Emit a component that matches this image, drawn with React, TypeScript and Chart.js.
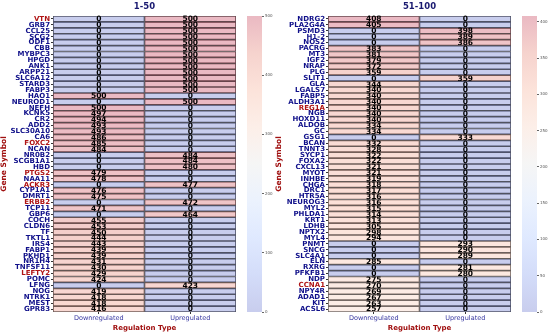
import React, { useEffect, useRef } from 'react';
import { Chart, registerables } from 'chart.js';
Chart.register(...registerables);
Chart.defaults.font.family = '"DejaVu Sans", sans-serif';

const genes1 = ['VTN','GRB7','CCL25','SCG2','ODF1','CBB','MYBPC3','HPGD','ANK1','ARPP21','SLC6A12','STARD3','FABP3','HAO1','NEUROD1','NEFH','KCNK5','CR2','ADD2','SLC30A10','CA6','FOXC2','NCAN','NR0B2','SCGB1A1','HBD','PTGS2','NAA11','ACKR3','CYP1A1','DMRT1','ERBB2','TCP11','GBP6','COCH','CLDN6','TF','TKTL1','IRS4','FABP1','PKHD1','NR1H4','TNFSF11','LEFTY2','POMC','LFNG','NOG','NTRK1','MEST','GPR83'];
const down1 = [0,0,0,0,0,0,0,0,0,0,0,0,0,500,0,500,497,494,493,493,486,485,484,0,0,0,479,478,0,476,475,0,471,0,455,453,450,444,443,439,439,431,430,429,424,0,419,418,418,416];
const up1 = [500,500,500,500,500,500,500,500,500,500,500,500,500,0,500,0,0,0,0,0,0,0,0,484,484,480,0,0,477,0,0,472,0,464,0,0,0,0,0,0,0,0,0,0,0,423,0,0,0,0];
const red1 = ['VTN','FOXC2','PTGS2','ACKR3','ERBB2','LEFTY2'];

const genes2 = ['NDRG2','PLA2G4A','PSMD3','H1-2','NOS2','PACRG','MT3','IGF2','NRAP','PLG','SLIT1','GLA','LGALS7','FABP5','ALDH3A1','REG1A','NGB','HOXD11','ALDOB','GC','GSG1','BCAN','TNNT3','SYCP1','FOXA2','CXCL13','MYOT','INHBE','CHGA','DRC1','HTR5A','NEUROG3','MYL2','PHLDA1','KRT1','LDHB','NPTX2','MYL4','PNMT','SNCG','SLC4A1','ELN','RXRG','PFKFB1','NDP','CCNA1','NPY4R','ADAD1','KIT','ACSL6'];
const down2 = [408,405,0,0,0,383,381,379,372,359,0,344,340,340,340,340,340,340,334,334,0,332,328,322,322,321,321,319,318,317,316,316,315,314,313,305,298,294,0,0,0,285,0,0,275,270,269,267,263,257];
const up2 = [0,0,398,389,386,0,0,0,0,0,359,0,0,0,0,0,0,0,0,0,333,0,0,0,0,0,0,0,0,0,0,0,0,0,0,0,0,0,293,290,289,0,281,280,0,0,0,0,0,0];
const red2 = ['REG1A','CCNA1'];

const regulationLabels = ['Downregulated', 'Upregulated'];
const cbTicks1 = [0, 100, 200, 300, 400, 500];
const cbTicks2 = [0, 50, 100, 150, 200, 250, 300, 350, 400];

const coolwarmStops: number[][] = [
  [59, 76, 192], [98, 130, 234], [141, 176, 254], [184, 208, 249], [221, 221, 221],
  [245, 196, 173], [244, 154, 123], [222, 96, 77], [180, 4, 38],
];
const ALPHA = 0.28;
function coolwarm(t: number): string {
  const tt = Math.max(0, Math.min(1, t)) * (coolwarmStops.length - 1);
  const i = Math.min(Math.floor(tt), coolwarmStops.length - 2);
  const f = tt - i;
  const a = coolwarmStops[i], b = coolwarmStops[i + 1];
  const c = a.map((v, k) => Math.round(v + (b[k] - v) * f));
  return `rgba(${c[0]},${c[1]},${c[2]},${ALPHA})`;
}

type PanelProps = {
  title: string; genes: string[]; down: number[]; up: number[]; red: string[];
  cbTicks: number[]; offset: number;
};

function Panel({ title, genes, down, up, red, cbTicks, offset }: PanelProps) {
  const ref = useRef<HTMLCanvasElement>(null);
  const cbRef = useRef<HTMLCanvasElement>(null);
  useEffect(() => {
    const vmax = Math.max(...down, ...up);
    const colorFor = (v: number) => coolwarm(v / vmax);
    const valuePlugin = {
      id: 'cellValues',
      afterDatasetsDraw(chart: any) {
        const { ctx, scales: { x, y }, chartArea } = chart;
        ctx.save();
        ctx.font = 'bold 7.5px "DejaVu Sans"';
        ctx.fillStyle = '#000';
        ctx.textAlign = 'center';
        ctx.textBaseline = 'middle';
        genes.forEach((g, i) => {
          const yp = y.getPixelForValue(i);
          ctx.fillText(String(down[i]), x.getPixelForValue(0.5), yp + 0.5);
          ctx.fillText(String(up[i]), x.getPixelForValue(1.5), yp + 0.5);
        });
        ctx.font = 'bold 8.5px "DejaVu Sans"';
        ctx.fillStyle = '#191970';
        ctx.fillText(title, (chartArea.left + chartArea.right) / 2, 6.5);
        ctx.restore();
      },
    };
    const barCommon = {
      borderColor: '#555',
      borderWidth: 0.5,
      borderSkipped: false,
      grouped: false,
      barPercentage: 1,
      categoryPercentage: 1,
    };
    const chart = new Chart(ref.current!, {
      type: 'bar',
      data: {
        labels: genes,
        datasets: [
          { ...barCommon, data: genes.map(() => [0, 1]) as any, backgroundColor: down.map(colorFor) },
          { ...barCommon, data: genes.map(() => [1, 2]) as any, backgroundColor: up.map(colorFor) },
        ],
      },
      options: {
        indexAxis: 'y',
        animation: false,
        responsive: false,
        events: [],
        layout: { padding: { top: 16, bottom: 4, right: 39, left: 0 } },
        plugins: { legend: { display: false }, tooltip: { enabled: false }, title: { display: false } },
        scales: {
          x: {
            type: 'linear', min: 0, max: 2,
            afterBuildTicks: (s: any) => { s.ticks = [{ value: 0.5 }, { value: 1.5 }]; },
            afterFit: (s: any) => { s.height = 20; },
            ticks: {
              callback: (v: any) => (Number(v) < 1 ? regulationLabels[0] : regulationLabels[1]),
              font: { size: 6.5 }, color: '#3535a0', padding: 0, maxRotation: 0, autoSkip: false,
            },
            grid: { drawOnChartArea: false, drawTicks: true, tickLength: 2, color: '#333' },
            border: { display: false },
            title: { display: true, text: 'Regulation Type', font: { size: 7, weight: 'bold' }, color: '#a01010', padding: 0 },
          },
          y: {
            type: 'category',
            afterFit: (s: any) => { s.width = 53; },
            ticks: {
              autoSkip: false, font: { size: 7, weight: 'bold' }, padding: 1,
              color: (ctx: any) => (red.includes(genes[ctx.index]) ? '#b01515' : '#10108a'),
            },
            grid: { drawOnChartArea: false, drawTicks: true, tickLength: 2, offset: false, color: '#333' },
            border: { display: false },
            title: { display: true, text: 'Gene Symbol', font: { size: 7.5, weight: 'bold' }, color: '#a01010', padding: 0 },
          },
        },
      } as any,
      plugins: [valuePlugin],
    });

    const gradientPlugin = {
      id: 'cbGradient',
      beforeDatasetsDraw(c: any) {
        const { ctx, chartArea: a } = c;
        const g = ctx.createLinearGradient(0, a.bottom, 0, a.top);
        coolwarmStops.forEach((_, i) => {
          const t = i / (coolwarmStops.length - 1);
          g.addColorStop(t, coolwarm(t));
        });
        ctx.save();
        ctx.fillStyle = g;
        ctx.fillRect(a.left, a.top, a.right - a.left, a.bottom - a.top);
        ctx.restore();
      },
    };
    const cb = new Chart(cbRef.current!, {
      type: 'bar',
      data: { labels: [''], datasets: [{ data: [] }] },
      options: {
        animation: false,
        responsive: false,
        events: [],
        layout: { padding: { top: 16, bottom: 24, left: 0, right: 0 } },
        plugins: { legend: { display: false }, tooltip: { enabled: false } },
        scales: {
          x: { display: false },
          y: {
            type: 'linear', position: 'right', min: 0, max: vmax,
            afterBuildTicks: (s: any) => { s.ticks = cbTicks.map((v) => ({ value: v })); },
            afterFit: (s: any) => { s.width = 15; },
            ticks: { font: { size: 4 }, color: '#555', padding: 1 },
            grid: { drawOnChartArea: false, drawTicks: true, tickLength: 2, color: '#666' },
            border: { display: false },
          },
        },
      } as any,
      plugins: [gradientPlugin],
    });
    return () => { chart.destroy(); cb.destroy(); };
  }, []);
  return (
    <>
      <canvas ref={ref} width={275} height={336}
        style={{ position: 'absolute', left: offset, top: 0, width: 275, height: 336 }} />
      <canvas ref={cbRef} width={30} height={336}
        style={{ position: 'absolute', left: offset + 247, top: 0, width: 30, height: 336 }} />
    </>
  );
}

export default function App() {
  return (
    <div style={{ position: 'absolute', left: 0, top: 0, width: 550, height: 336, background: '#fff' }}>
      <Panel title="1-50" genes={genes1} down={down1} up={up1} red={red1} cbTicks={cbTicks1} offset={0} />
      <Panel title="51-100" genes={genes2} down={down2} up={up2} red={red2} cbTicks={cbTicks2} offset={275} />
    </div>
  );
}
